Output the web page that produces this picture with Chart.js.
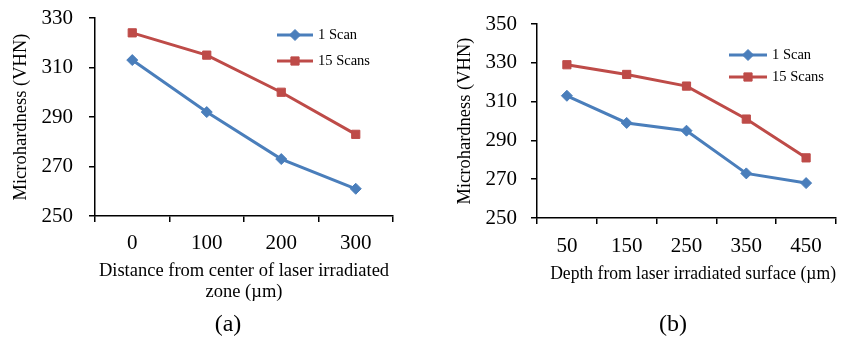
<!DOCTYPE html>
<html lang="en">
<head>
<meta charset="UTF-8">
<title>Microhardness vs distance / depth</title>
<script src="https://cdn.jsdelivr.net/npm/chart.js@4"></script>
<style>
body{margin:0;background:#fff;width:856px;height:339px;overflow:hidden;position:relative;
  font-family:"Liberation Serif","Times New Roman",serif}
canvas{position:absolute;top:0}
#cA{left:0}
#cB{left:430px}
.cap{position:absolute;top:308px;font-size:24px;line-height:30px;color:#000;transform:translateX(-50%)}
</style>
</head>
<body>
<canvas id="cA" width="430" height="339"></canvas>
<canvas id="cB" width="426" height="339"></canvas>
<div class="cap" style="left:228px">(a)</div>
<div class="cap" style="left:673px">(b)</div>

<script>
// chart (a): distance from center of irradiated zone
const distLabels=["0","100","200","300"];
const distOneScan=[313,292,273,261];
const distFifteen=[324,315,300,283];
// chart (b): depth from irradiated surface
const depthLabels=["50","150","250","350","450"];
const depthOneScan=[313,299,295,273,268];
const depthFifteen=[329,324,318,301,281];

const SERIF='"Liberation Serif","Times New Roman",serif';
const BLUE="#4a7ebb", RED="#be4b48";

// legend drawn inside the plot: short line + marker + label
const innerLegend={
  id:"innerLegend",
  afterDraw(chart,args,opts){
    const {ctx,chartArea:a}=chart;
    ctx.save();
    chart.data.datasets.forEach((ds,i)=>{
      const y=a.top+opts.y+i*opts.gap, x0=a.left+opts.x, x1=x0+opts.len;
      ctx.strokeStyle=ds.borderColor;ctx.lineWidth=3;
      ctx.beginPath();ctx.moveTo(x0,y);ctx.lineTo(x1,y);ctx.stroke();
      ctx.fillStyle=ds.backgroundColor;ctx.strokeStyle=ds.borderColor;ctx.lineWidth=1;
      Chart.helpers.drawPoint(ctx,{pointStyle:ds.pointStyle,radius:ds.pointRadius,borderWidth:1},(x0+x1)/2,y);
      ctx.fillStyle="#000";ctx.font="14.5px "+SERIF;ctx.textBaseline="middle";ctx.textAlign="left";
      ctx.fillText(ds.label,x1+5,y);
    });
    ctx.restore();
  }
};

function makeChart(id,labels,one,fifteen,cfg){
  return new Chart(document.getElementById(id),{
    type:"line",
    data:{labels,datasets:[
      {label:"1 Scan",data:one,borderColor:BLUE,backgroundColor:BLUE,borderWidth:3,
       pointStyle:"rectRot",pointRadius:5.5,pointBorderWidth:1,tension:0},
      {label:"15 Scans",data:fifteen,borderColor:RED,backgroundColor:RED,borderWidth:3,
       pointStyle:"rect",pointRadius:5.8,pointBorderWidth:1,tension:0}
    ]},
    options:{
      responsive:false,animation:false,devicePixelRatio:1,
      layout:{padding:cfg.pad},
      plugins:{legend:{display:false},tooltip:{enabled:false},innerLegend:cfg.legend},
      scales:{
        x:{
          offset:true,
          grid:{offset:true,drawOnChartArea:false,color:"#000",lineWidth:1.5,tickLength:6},
          border:{color:"#000",width:1.5},
          ticks:{color:"#000",font:{family:SERIF,size:21},padding:cfg.xTickPad,maxRotation:0},
          title:{display:true,text:cfg.xTitle,color:"#000",font:{family:SERIF,size:18.5,lineHeight:1.15},
                 padding:{top:0,bottom:cfg.xTitlePad}},
          afterFit:s=>{s.height=90;}
        },
        y:{
          min:250,max:cfg.yMax,
          grid:{drawOnChartArea:false,color:"#000",lineWidth:1.5,tickLength:6},
          border:{color:"#000",width:1.5},
          ticks:{stepSize:20,color:"#000",font:{family:SERIF,size:21},padding:cfg.yTickPad},
          title:{display:true,text:"Microhardness (VHN)",color:"#000",
                 font:{family:SERIF,size:18.5,lineHeight:1.2},padding:{top:cfg.yTitlePad,bottom:0}},
          afterFit:s=>{s.width=cfg.yWidth;s.paddingTop=0;s.paddingBottom=0;}
        }
      }
    },
    plugins:[innerLegend]
  });
}

makeChart("cA",distLabels,distOneScan,distFifteen,{
  pad:{left:0,top:18,right:37,bottom:33},
  yMax:330,yWidth:95,yTickPad:16,yTitlePad:10,
  xTickPad:9,xTitlePad:3,
  xTitle:["Distance from center of laser irradiated","zone (\u00b5m)"],
  legend:{x:182,y:17,gap:26,len:36}
});
makeChart("cB",depthLabels,depthOneScan,depthFifteen,{
  pad:{left:0,top:24,right:20,bottom:31},
  yMax:350,yWidth:107,yTickPad:14,yTitlePad:24,
  xTickPad:10,xTitlePad:23,
  xTitle:"\u00a0\u00a0\u00a0Depth from laser irradiated surface (\u00b5m)",
  legend:{x:192,y:31,gap:22,len:38}
});
</script>
</body>
</html>
